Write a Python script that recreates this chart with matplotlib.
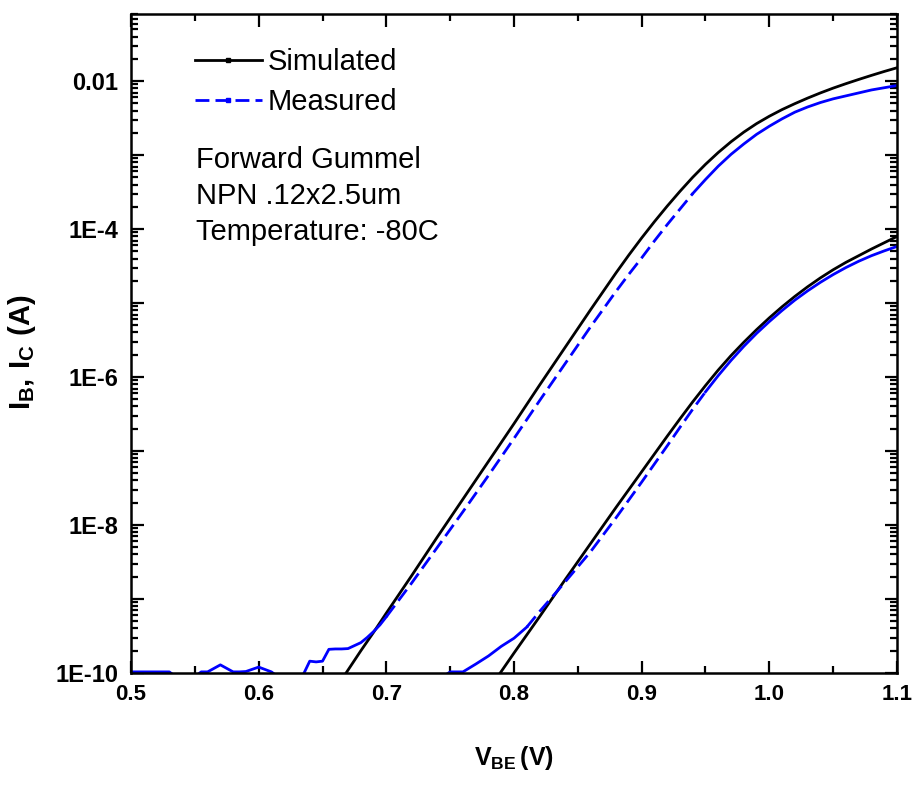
import numpy as np
import matplotlib
matplotlib.use('Agg')
import matplotlib.pyplot as plt
from matplotlib.ticker import FixedLocator, FuncFormatter, MultipleLocator, LogLocator
from matplotlib.lines import Line2D

plt.rcParams['font.family'] = ['Liberation Sans', 'DejaVu Sans']
plt.rcParams['mathtext.fontset'] = 'custom'
plt.rcParams['mathtext.rm'] = 'Liberation Sans'
plt.rcParams['mathtext.bf'] = 'Liberation Sans:bold'

# Forward Gummel, NPN .12x2.5um, -80C  (currents given as log10(I/A))
vbe_ic_sim = [0.66, 0.67, 0.68, 0.69, 0.70, 0.72, 0.74, 0.76, 0.78, 0.80, 0.82, 0.84, 0.86,
              0.87, 0.88, 0.89, 0.90, 0.91, 0.92, 0.93, 0.94, 0.95, 0.96, 0.97, 0.98, 0.99,
              1.00, 1.01, 1.02, 1.03, 1.04, 1.05, 1.06, 1.07, 1.08, 1.09, 1.10]
log_ic_sim = [-10.22, -9.96, -9.70, -9.45, -9.19, -8.68, -8.16, -7.65, -7.14, -6.63, -6.11, -5.60, -5.09,
              -4.84, -4.59, -4.35, -4.12, -3.90, -3.69, -3.49, -3.30, -3.125, -2.965, -2.82, -2.69, -2.575,
              -2.475, -2.385, -2.305, -2.23, -2.16, -2.095, -2.035, -1.978, -1.923, -1.87, -1.82]

vbe_ic_meas = [0.500, 0.505, 0.510, 0.515, 0.520, 0.525, 0.530, 0.535, 0.540, 0.545, 0.550,
               0.555, 0.560, 0.570, 0.580, 0.585, 0.590, 0.600, 0.610, 0.615, 0.620, 0.625,
               0.630, 0.635, 0.640, 0.645, 0.650, 0.655, 0.660, 0.665, 0.670, 0.675, 0.680,
               0.685, 0.690, 0.695, 0.700, 0.71, 0.72, 0.74, 0.76, 0.78, 0.80, 0.82, 0.84,
               0.86, 0.87, 0.88, 0.89, 0.90, 0.91, 0.92, 0.93, 0.94, 0.95, 0.96, 0.97, 0.98,
               0.99, 1.00, 1.01, 1.02, 1.03, 1.04, 1.05, 1.06, 1.07, 1.08, 1.09, 1.10]
log_ic_meas = [-9.985, -9.985, -9.985, -9.985, -9.985, -9.985, -9.985, -10.05, -10.05, -10.05, -10.05,
               -9.985, -9.985, -9.89, -9.985, -9.985, -9.98, -9.92, -9.985, -10.05, -10.05, -10.05,
               -10.05, -10.02, -9.84, -9.85, -9.84, -9.68, -9.675, -9.675, -9.67, -9.63, -9.59,
               -9.52, -9.44, -9.35, -9.24, -9.01, -8.78, -8.30, -7.82, -7.33, -6.83, -6.32, -5.82,
               -5.32, -5.08, -4.84, -4.61, -4.39, -4.16, -3.94, -3.73, -3.52, -3.33, -3.15, -2.99, -2.85,
               -2.72, -2.61, -2.51, -2.42, -2.35, -2.29, -2.24, -2.20, -2.16, -2.12, -2.09, -2.06]

vbe_ib_sim = [0.78, 0.79, 0.80, 0.82, 0.84, 0.86, 0.88, 0.89, 0.90, 0.91, 0.92, 0.93, 0.94,
              0.95, 0.96, 0.97, 0.98, 0.99, 1.00, 1.01, 1.02, 1.03, 1.04, 1.05, 1.06, 1.07,
              1.08, 1.09, 1.10]
log_ib_sim = [-10.22, -9.98, -9.73, -9.24, -8.74, -8.25, -7.76, -7.52, -7.28, -7.04, -6.80, -6.565, -6.335,
              -6.115, -5.905, -5.71, -5.53, -5.36, -5.20, -5.05, -4.91, -4.78, -4.66, -4.55, -4.45, -4.36,
              -4.27, -4.185, -4.10]

vbe_ib_meas = [0.74, 0.75, 0.76, 0.77, 0.78, 0.79, 0.80, 0.81, 0.82, 0.83, 0.84, 0.86, 0.87,
               0.88, 0.89, 0.90, 0.91, 0.92, 0.93, 0.94, 0.95, 0.96, 0.97, 0.98, 0.99, 1.00,
               1.01, 1.02, 1.03, 1.04, 1.05, 1.06, 1.07, 1.08, 1.09, 1.10]
log_ib_meas = [-10.1, -9.985, -9.985, -9.88, -9.77, -9.64, -9.53, -9.38, -9.17, -8.97, -8.77, -8.36, -8.13,
               -7.90, -7.66, -7.42, -7.175, -6.93, -6.68, -6.435, -6.20, -5.98, -5.775, -5.585, -5.41, -5.25,
               -5.10, -4.96, -4.835, -4.72, -4.615, -4.52, -4.435, -4.36, -4.295, -4.235]

ytick_text = {-2: '0.01', -4: '1E-4', -6: '1E-6', -8: '1E-8', -10: '1E-10'}

fig = plt.figure(figsize=(9.17, 7.86), dpi=100)
ax = fig.add_axes([131/917, 1-673/786, 766/917, 659/786])

dash = (0, (5, 2.2))

ax.plot(vbe_ic_sim, 10.0**np.array(log_ic_sim), color='black', lw=2.0)
ax.plot(vbe_ib_sim, 10.0**np.array(log_ib_sim), color='black', lw=2.0)

# measured curves: dense points look solid in flat parts, dashed on the steep part
for v, lg, lo, hi in [(vbe_ic_meas, log_ic_meas, 0.70, 0.94),
                      (vbe_ib_meas, log_ib_meas, 0.81, 0.95)]:
    v = np.array(v)
    i = 10.0**np.array(lg)
    m1 = v <= lo
    m2 = (v >= lo) & (v <= hi)
    m3 = v >= hi
    ax.plot(v[m1], i[m1], color='blue', lw=2.0)
    ax.plot(v[m2], i[m2], color='blue', lw=2.0, ls=dash)
    ax.plot(v[m3], i[m3], color='blue', lw=2.0)

ax.set_yscale('log')
ax.set_xlim(0.5, 1.1)
ax.set_ylim(1e-10, 10**(-2 + 67/73.9))

ax.xaxis.set_major_locator(MultipleLocator(0.1))
ax.xaxis.set_minor_locator(MultipleLocator(0.05))
ax.xaxis.set_major_formatter(FuncFormatter(lambda x, p: '%.1f' % x))

ax.yaxis.set_major_locator(FixedLocator([10.0**k for k in range(-10, 0)]))
ax.yaxis.set_minor_locator(LogLocator(base=10, subs=np.arange(2, 10), numticks=30))
ax.yaxis.set_major_formatter(FuncFormatter(
    lambda y, p: ytick_text.get(int(round(np.log10(y))), '')))
ax.yaxis.set_minor_formatter(FuncFormatter(lambda y, p: ''))

ax.tick_params(which='both', direction='in', top=True, right=True, width=1.6)
ax.tick_params(which='major', length=9)
ax.tick_params(which='minor', length=5)
ax.tick_params(axis='x', which='major', labelsize=16, pad=8)
ax.tick_params(axis='y', which='major', labelsize=17, pad=9)
for lab in ax.get_xticklabels() + ax.get_yticklabels():
    lab.set_fontweight('bold')
for s in ax.spines.values():
    s.set_linewidth(1.8)

ax.set_xlabel(r'$\mathbf{V_{BE}\,(V)}$', fontsize=18, labelpad=28)
ax.set_ylabel(r'$\mathbf{I_B{,}\ I_C\ (A)}$', fontsize=21)
ax.yaxis.set_label_coords(-0.122, 0.487)

handles = [Line2D([], [], color='black', lw=2.0, marker='s', ms=3.5),
           Line2D([], [], color='blue', lw=2.0, ls=dash, marker='s', ms=3.5)]
ax.legend(handles, ['Simulated', 'Measured'], loc='upper left',
          bbox_to_anchor=(0.083, 0.948), frameon=False, fontsize=21,
          handlelength=2.3, handletextpad=0.2, labelspacing=0.4,
          borderpad=0, borderaxespad=0, numpoints=1)

notes = ['Forward Gummel', 'NPN .12x2.5um', 'Temperature: -80C']
for k, t in enumerate(notes):
    ax.text(0.085, 0.778 - k*0.0547, t, transform=ax.transAxes, fontsize=21,
            ha='left', va='center')

fig.savefig('out.png', dpi=100)
